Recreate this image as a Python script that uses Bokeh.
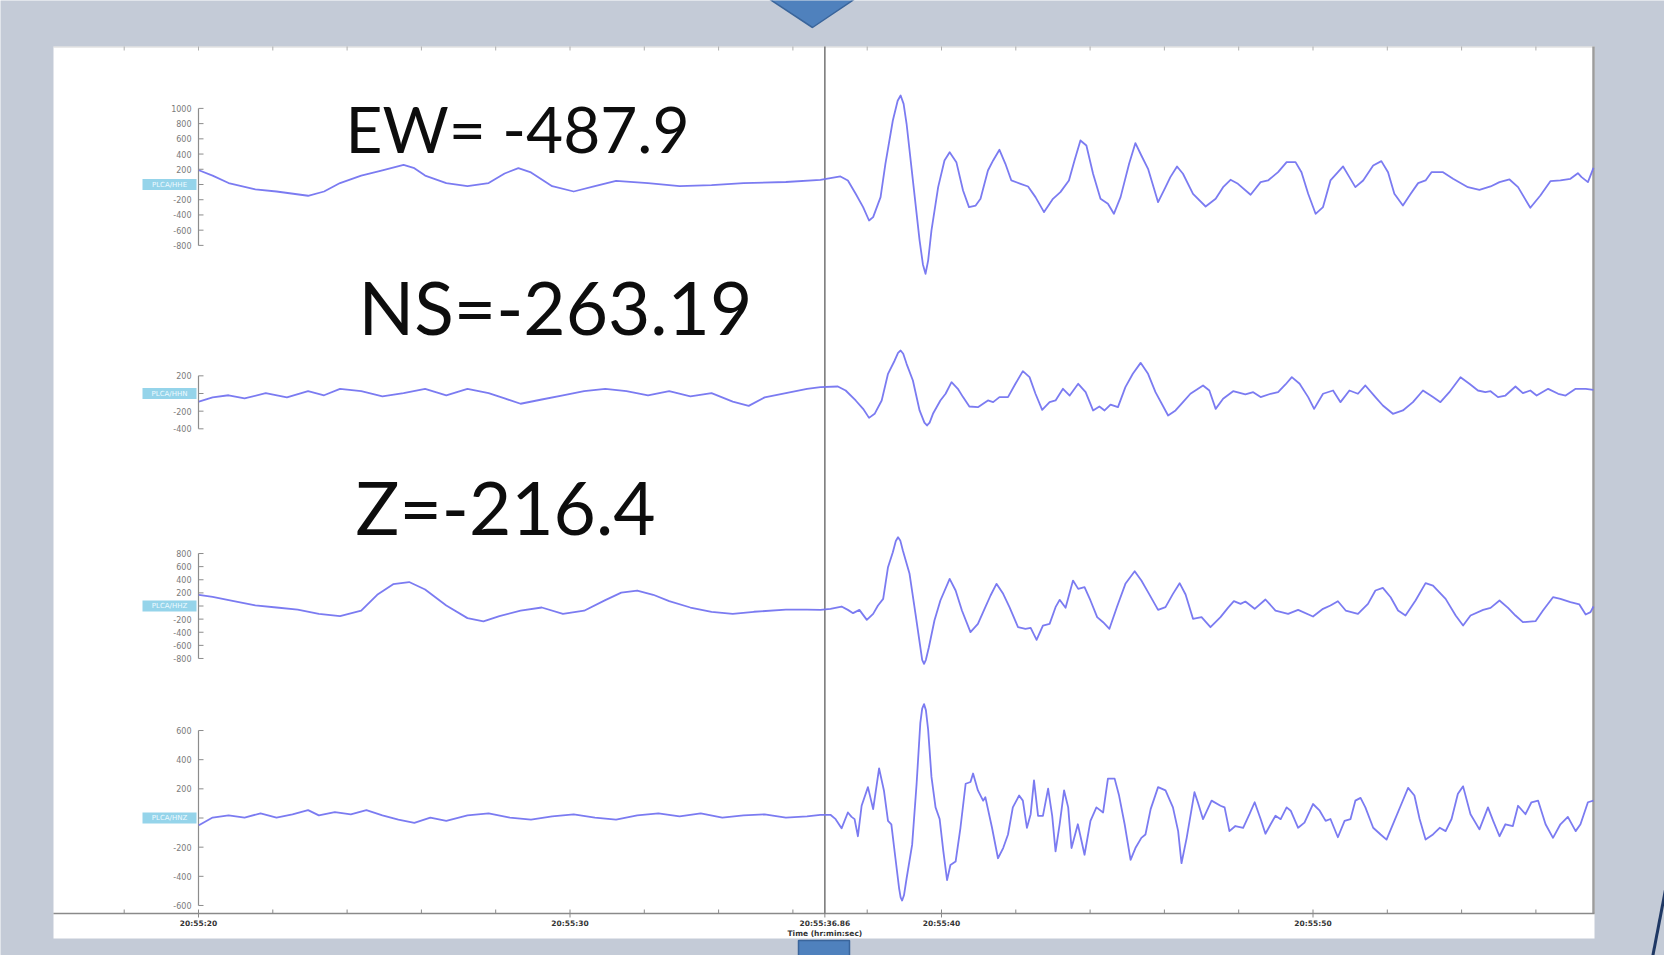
from bokeh.plotting import figure
from bokeh.models import Range1d
from bokeh.core.properties import value
from bokeh.embed import file_html
from bokeh.resources import INLINE

# ---------------------------------------------------------------------------
# Station PLCA, four channels. Time in seconds after 20:55:00, amplitude in counts.
# ---------------------------------------------------------------------------
hhe_t = [20.01, 20.38, 20.81, 21.53, 22.10, 22.95, 23.38, 23.81, 24.38, 24.95,
         25.52, 25.81, 26.10, 26.67, 27.24, 27.81, 28.24, 28.61, 28.95, 29.52,
         30.10, 30.67, 31.24, 32.10, 32.95, 33.81, 34.67, 35.81,
         36.74, 37.28, 37.48, 37.69, 37.89, 38.05, 38.16, 38.36, 38.49, 38.69,
         38.82, 38.90, 38.98, 39.06, 39.23, 39.41, 39.50, 39.57, 39.64, 39.73,
         39.91, 40.08, 40.22, 40.40,
         40.58, 40.74, 40.92, 41.05, 41.25, 41.39, 41.56, 41.72, 41.88, 42.13,
         42.33, 42.53, 42.76, 43.00, 43.20, 43.43, 43.58, 43.74, 43.90, 44.08,
         44.28, 44.48, 44.64, 44.82, 45.05, 45.22, 45.38, 45.56, 45.83, 46.03,
         46.16, 46.34, 46.50, 46.77, 47.11, 47.38, 47.58, 47.78, 47.98, 48.32,
         48.59, 48.79, 49.06, 49.29, 49.53, 49.69, 49.87, 50.07, 50.27, 50.47,
         50.81, 50.98, 51.14, 51.35, 51.62, 51.84, 52.02, 52.19, 52.42, 52.63,
         52.83, 53.03, 53.19, 53.50, 53.77, 54.17, 54.48, 54.78, 55.02, 55.29,
         55.52, 55.85, 56.12, 56.39, 56.66, 56.93, 57.13, 57.23, 57.40, 57.55]
hhe_v = [187, 117, 19, -64, -92, -148, -92, 19, 117, 187,
         257, 215, 117, 19, -22, 19, 145, 215, 159, -22,
         -92, -22, 47, 19, -22, -8, 19, 33,
         62, 106, 53, -122, -297, -473, -429, -166, 272, 841,
         1100, 1170, 1060, 798, 53, -735, -1050, -1173, -1000, -604,
         -35, 316, 425, 294,
         -78, -297, -276, -188, 184, 316, 456, 272, 53, 9,
         -26, -166, -363, -188, -100, 53, 316, 579, 513, 141,
         -188, -254, -385, -166, 272, 544, 381, 206, -232, -35,
         97, 237, 141, -122, -289, -188, -35, 62, 9, -135,
         31, 53, 162, 294, 294, 162, -122, -385, -297, 53,
         237, 97, -35, 53, 250, 307, 162, -122, -276, -122,
         18, 53, 162, 162, 75, -35, -70, -26, 31, 66,
         -35, -306, -144, 44, 53, 75, 149, 97, 31, 219]

hhn_t = [20.01, 20.38, 20.81, 21.24, 21.81, 22.38, 22.95, 23.38, 23.81, 24.38,
         24.95, 25.52, 26.10, 26.67, 27.24, 27.81, 28.24, 28.67, 29.24, 29.81,
         30.38, 30.95, 31.52, 32.10, 32.67, 33.24, 33.81, 34.38, 34.81, 35.24,
         35.81, 36.38,
         36.74, 37.21, 37.42, 37.69, 37.89, 38.05, 38.20, 38.39, 38.56, 38.74,
         38.83, 38.90, 38.97, 39.06, 39.23, 39.41, 39.54, 39.61, 39.68, 39.77,
         39.97, 40.11, 40.27, 40.44,
         40.58, 40.75, 40.98, 41.25, 41.39, 41.56, 41.79, 41.99, 42.19, 42.37,
         42.53, 42.71, 42.91, 43.07, 43.27, 43.45, 43.68, 43.88, 44.08, 44.25,
         44.39, 44.55, 44.75, 44.95, 45.15, 45.36, 45.56, 45.76, 46.10, 46.30,
         46.50, 46.70, 47.04, 47.21, 47.38, 47.58, 47.85, 48.18, 48.39, 48.59,
         48.86, 49.06, 49.26, 49.43, 49.64, 49.87, 50.03, 50.27, 50.54, 50.74,
         50.98, 51.21, 51.41, 51.68, 51.88, 52.15, 52.42, 52.69, 52.96, 53.23,
         53.43, 53.67, 53.97, 54.21, 54.44, 54.64, 54.78, 54.98, 55.18, 55.45,
         55.65, 55.85, 56.02, 56.33, 56.60, 56.80, 57.07, 57.34, 57.55]
hhn_v = [-92, -44, -20, -56, 4, -44, 28, -20, 52, 28,
         -32, 4, 52, -20, 52, 4, -56, -116, -68, -20,
         28, 52, 28, -20, 28, -32, 4, -92, -140, -44,
         4, 52,
         72, 79, 34, -79, -174, -276, -230, -79, 223, 374,
         460, 487, 450, 336, 147, -192, -330, -362, -330, -230,
         -79, -3, 128, 53,
         -41, -147, -155, -79, -98, -41, -41, 110, 253, 185,
         -3, -185, -98, -79, 53, -23, 110, 15, -192, -147,
         -192, -125, -155, 72, 223, 347, 223, 15, -249, -192,
         -98, -3, 91, 34, -174, -60, 26, -11, 15, -41,
         -3, 15, 102, 185, 110, -41, -174, -3, 34, -98,
         34, -3, 91, -41, -136, -230, -192, -98, 34, -41,
         -98, 15, 185, 110, 34, 15, 26, -41, -23, 79,
         4, 34, -23, 53, -3, -23, 53, 53, 41]

hhz_t = [20.01, 20.38, 20.95, 21.53, 22.10, 22.67, 23.24, 23.81, 24.38, 24.81,
         25.24, 25.67, 26.10, 26.67, 27.24, 27.67, 28.10, 28.67, 29.24, 29.81,
         30.38, 30.95, 31.38, 31.81, 32.24, 32.67, 33.24, 33.81, 34.38, 34.95,
         35.81, 36.38,
         36.74, 37.01, 37.31, 37.48, 37.62, 37.79, 37.99, 38.16, 38.29, 38.43,
         38.56, 38.69, 38.77, 38.83, 38.89, 38.96, 39.14, 39.30, 39.43, 39.48,
         39.53, 39.58, 39.66, 39.81,
         39.97, 40.22, 40.38, 40.55, 40.78, 40.98, 41.18, 41.32, 41.48, 41.66,
         41.83, 42.06, 42.26, 42.40, 42.56, 42.73, 42.91, 43.07, 43.18, 43.34,
         43.54, 43.68, 43.85, 44.01, 44.19, 44.35, 44.52, 44.72, 44.95, 45.20,
         45.38, 45.56, 45.83, 46.03, 46.23, 46.41, 46.57, 46.77, 47.00, 47.24,
         47.51, 47.71, 47.87, 48.05, 48.18, 48.43, 48.72, 48.99, 49.33, 49.60,
         50.00, 50.27, 50.47, 50.67, 50.88, 51.21, 51.48, 51.68, 51.88, 52.09,
         52.29, 52.49, 52.76, 53.03, 53.23, 53.57, 53.84, 54.04, 54.24, 54.58,
         54.78, 55.02, 55.25, 55.45, 55.65, 55.99, 56.19, 56.46, 56.66, 56.93,
         57.17, 57.34, 57.47, 57.55]
hhz_v = [171, 139, 74, 9, -23, -56, -120, -153, -72, 171,
         333, 365, 252, 9, -185, -234, -153, -72, -23, -120,
         -72, 90, 203, 236, 171, 74, -23, -88, -120, -88,
         -56, -56,
         -59, -43, -8, -59, -109, -59, -211, -120, 7, 109,
         592, 820, 990, 1049, 1000, 846, 490, -120, -628, -820,
         -882, -820, -628, -221,
         84, 414, 236, -69, -399, -272, -18, 160, 338, 185,
         -18, -323, -348, -333, -516, -298, -272, -18, 94, -28,
         388, 261, 287, 84, -170, -247, -348, -18, 338, 531,
         388, 211, -59, -18, 185, 348, 175, -196, -170, -323,
         -170, -28, 73, 33, 68, -43, 99, -69, -120, -59,
         -160, -43, 7, 73, -69, -120, 33, 236, 277, 134,
         -69, -145, 84, 348, 312, 109, -145, -298, -145, -59,
         -28, 84, -28, -145, -247, -231, -69, 134, 109, 58,
         23, -130, -94, -8]

hnz_t = [20.01, 20.38, 20.81, 21.24, 21.67, 22.10, 22.53, 22.95, 23.24, 23.67,
         24.10, 24.52, 24.95, 25.38, 25.81, 26.24, 26.67, 27.24, 27.81, 28.38,
         28.95, 29.52, 30.10, 30.67, 31.24, 31.81, 32.38, 32.95, 33.52, 34.10,
         34.67, 35.24, 35.81, 36.38,
         36.74, 37.01, 37.15, 37.31, 37.48, 37.58, 37.66, 37.75, 37.85, 38.02,
         38.16, 38.32, 38.45, 38.56, 38.65, 38.76, 38.86, 38.90, 38.94, 38.99,
         39.06, 39.21,
         39.33, 39.43, 39.48, 39.53, 39.58, 39.64, 39.73, 39.84, 39.95, 40.05,
         40.15, 40.24,
         40.38, 40.51, 40.65, 40.78, 40.85, 40.98, 41.12, 41.18, 41.36, 41.52,
         41.66, 41.79, 41.92, 42.09, 42.19, 42.30, 42.40, 42.49, 42.60, 42.73,
         42.87, 42.98, 43.07, 43.18, 43.30, 43.41, 43.50, 43.67, 43.85, 44.01,
         44.17, 44.35, 44.48, 44.66, 44.78, 44.93, 45.09, 45.22, 45.38, 45.49,
         45.63, 45.83, 46.03, 46.23, 46.37, 46.46, 46.60, 46.81, 46.90, 47.04,
         47.27, 47.51, 47.62, 47.75, 47.91, 48.12, 48.29, 48.43, 48.59, 48.72,
         48.86, 48.99, 49.13, 49.29, 49.40, 49.60, 49.77, 50.00, 50.18, 50.34,
         50.47, 50.67, 50.85, 51.01, 51.14, 51.28, 51.41, 51.62, 51.82, 51.98,
         52.19, 52.36, 52.56, 52.73, 52.87, 53.03, 53.23, 53.41, 53.57, 53.73,
         53.90, 54.04, 54.24, 54.48, 54.71, 54.85, 55.02, 55.18, 55.38, 55.52,
         55.72, 55.88, 56.06, 56.26, 56.46, 56.66, 56.86, 57.07, 57.20, 57.40,
         57.55]
hnz_v = [-50, 3, 18, 3, 32, 3, 25, 54, 18, 40,
         25, 54, 18, -11, -33, 3, -19, 18, 32, 3,
         -11, 11, 25, 3, -11, 18, 32, 11, 32, 3,
         18, 25, 3, 11,
         22, 22, -8, -71, 38, 8, -8, -125, 84, 212,
         61, 340, 189, -20, -43, -276, -484, -545, -566, -530,
         -415, -183,
         235, 653, 750, 781, 740, 607, 282, 73, -7, -229,
         -426, -322,
         -299, -67, 235, 247, 305, 189, 119, 143, -67, -276,
         -206, -113, 73, 154, 119, -67, 26, 258, 15, 15,
         201, 15, -229, -43, 189, 73, -206, -43, -252, -20,
         73, 38, 270, 270, 154, -43, -287, -206, -136, -113,
         61, 212, 189, 73, -90, -310, -136, 177, 108, -8,
         119, 84, 73, -90, -55, -67, 26, 108, -7, -108,
         -43, 15, -8, 73, 50, -67, -32, 96, 50, -20,
         -7, -132, -20, -7, 119, 138, 73, -67, -113, -148,
         -20, 84, 207, 154, -7, -148, -113, -67, -90, -7,
         166, 217, 26, -78, 73, -20, -125, -43, -55, 84,
         26, 108, 119, -43, -136, -43, 8, -90, -43, 108,
         119]

# amplitude ticks of each channel's small axis
hhe_ticks = [1000, 800, 600, 400, 200, 0, -200, -400, -600, -800]
hhn_ticks = [200, 0, -200, -400]
hhz_ticks = [800, 600, 400, 200, 0, -200, -400, -600, -800]
hnz_ticks = [600, 400, 200, 0, -200, -400, -600]

# time axis
time_ticks = [20, 30, 36.86, 40, 50]
time_labels = ["20:55:20", "20:55:30", "20:55:36.86", "20:55:40", "20:55:50"]
pick_time = 36.86

# peak readings written over the record
readings = ["EW= -487.9", "NS=-263.19", "Z=-216.4"]

# ---------------------------------------------------------------------------
W, H = 1664, 955
PX_PER_S = 37.15
T0 = 20 - 198 / PX_PER_S
T1 = T0 + W / PX_PER_S

SLIDE = "#c4cbd7"
TRACE = "#7474f0"
AXIS_GREY = "#8a8a8a"

p = figure(width=W, height=H, x_range=Range1d(T0, T1), y_range=Range1d(H, 0),
           x_axis_type=None, y_axis_type=None, toolbar_location=None,
           output_backend="svg", min_border=0, outline_line_color=None,
           background_fill_color=SLIDE, border_fill_color=SLIDE)
p.extra_x_ranges = {"px": Range1d(0, W)}

# white seismogram panel
p.quad(left=53, right=1594, top=46, bottom=938, x_range_name="px",
       fill_color="white", line_color=None)
p.segment(x0=53, y0=46.5, x1=1594, y1=46.5, x_range_name="px",
          line_color="#d4d4d4", line_width=1)
p.segment(x0=1593, y0=46, x1=1593, y1=913, x_range_name="px",
          line_color="#9c9c9c", line_width=2.5)
p.segment(x0=53, y0=913, x1=1594, y1=913, x_range_name="px",
          line_color=AXIS_GREY, line_width=1.6)

# time ticks on the top and bottom edges
minor = [18 + 2 * i for i in range(20)]
p.segment(x0=minor, y0=[909] * len(minor), x1=minor, y1=[913] * len(minor),
          line_color=AXIS_GREY, line_width=1)
p.segment(x0=minor, y0=[46] * len(minor), x1=minor, y1=[50] * len(minor),
          line_color="#b0b0b0", line_width=1)
p.segment(x0=time_ticks, y0=[913] * 5, x1=time_ticks, y1=[917] * 5,
          line_color=AXIS_GREY, line_width=1)

# pick marker
p.segment(x0=pick_time, y0=46, x1=pick_time, y1=913,
          line_color="#7c7c7c", line_width=1.6)

p.text(x=time_ticks, y=[923] * len(time_ticks), text=time_labels,
       text_font=value("DejaVu Sans"), text_font_style="bold",
       text_font_size="7.5px", text_color="#333333",
       text_align="center", text_baseline="middle")
p.text(x=[pick_time], y=[933], text=["Time (hr:min:sec)"],
       text_font=value("DejaVu Sans"), text_font_style="bold",
       text_font_size="7.5px", text_color="#333333",
       text_align="center", text_baseline="middle")

# channels: (name, times, values, ticks, zero line in px, px per count)
channels = [
    ("PLCA/HHE", hhe_t, hhe_v, hhe_ticks, 184.0, 0.0761),
    ("PLCA/HHN", hhn_t, hhn_v, hhn_ticks, 393.0, 0.0883),
    ("PLCA/HHZ", hhz_t, hhz_v, hhz_ticks, 605.5, 0.0656),
    ("PLCA/HNZ", hnz_t, hnz_v, hnz_ticks, 817.5, 0.1458),
]

for name, t, v, ticks, y_zero, scale in channels:
    rn = name.replace("/", "_")
    p.extra_y_ranges[rn] = Range1d((y_zero - H) / scale, y_zero / scale)

    # small amplitude axis
    n = len(ticks)
    p.segment(x0=198, y0=max(ticks), x1=198, y1=min(ticks),
              x_range_name="px", y_range_name=rn,
              line_color="#8c8c8c", line_width=1.2)
    p.segment(x0=[198] * n, y0=ticks, x1=[203] * n, y1=ticks,
              x_range_name="px", y_range_name=rn,
              line_color="#8c8c8c", line_width=1)
    p.text(x=[191] * n, y=ticks, text=[str(k) for k in ticks],
           x_range_name="px", y_range_name=rn,
           text_font=value("DejaVu Sans"), text_font_size="8px",
           text_color="#7a7a7a", text_align="right", text_baseline="middle")

    # channel tag on the zero line
    p.rect(x=169, y=0, width=54, height=11, width_units="screen",
           height_units="screen", x_range_name="px", y_range_name=rn,
           fill_color="#95d4ea", line_color=None)
    p.text(x=[169], y=[0], text=[name], x_range_name="px", y_range_name=rn,
           text_font=value("DejaVu Sans"), text_font_size="7px",
           text_color="#eefaff", text_align="center", text_baseline="middle")

    # waveform
    p.line(t, v, y_range_name=rn, line_color=TRACE, line_width=1.8,
           line_alpha=0.95, line_join="round")

# readings
p.text(x=[345, 358, 355], y=[128, 306, 506], text=readings, x_range_name="px",
       text_font=value("Lato"), text_font_size=["64px", "73px", "73px"],
       text_color="#0d0d0d", text_align="left", text_baseline="alphabetic")

# slide decorations
p.patch(x=[768, 855, 812], y=[-2, -2, 27], x_range_name="px",
        fill_color="#4f81bd", line_color="#3a659b", line_width=1.5)
p.quad(left=798, right=849, top=940, bottom=957, x_range_name="px",
       fill_color="#4f81bd", line_color="#3a659b", line_width=1.5)
p.line(x=[1666, 1652], y=[884, 957], x_range_name="px",
       line_color="#1f3864", line_width=3)

open("out.html", "w").write(file_html(p, INLINE))
